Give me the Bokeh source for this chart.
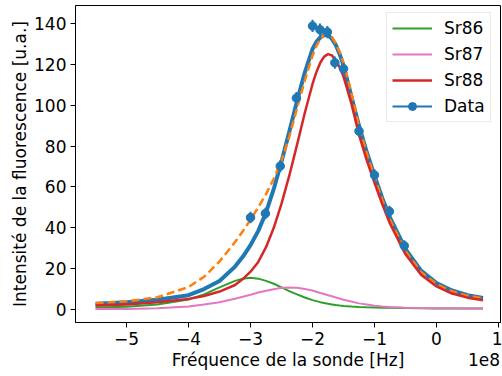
from bokeh.plotting import figure
from bokeh.models import Range1d, FixedTicker, Legend, LegendItem, LinearAxis, CustomJSTickFormatter
from bokeh.embed import file_html
from bokeh.resources import INLINE

# Frequencies in units of 1e8 Hz
freq_fit = [-5.5, -5.0, -4.5, -4.0, -3.75, -3.5, -3.25, -3.125, -3.0, -2.875, -2.75, -2.625,
            -2.5, -2.375, -2.25, -2.125, -2.0, -1.9375, -1.875, -1.8125, -1.75, -1.6875,
            -1.625, -1.5625, -1.5, -1.375, -1.25, -1.125, -1.0, -0.875, -0.75, -0.5, -0.25,
            0.0, 0.25, 0.5, 0.75]
fit_total = [2.8, 3.6, 4.8, 7.0, 10.0, 14.0, 21.0, 25.8, 31.5, 38.5, 47.5, 59.0,
             72.5, 87.0, 102.0, 116.0, 127.5, 131.0, 133.2, 134.4, 134.3, 132.5,
             129.5, 125.0, 119.5, 104.5, 90.0, 77.0, 65.5, 54.5, 45.0, 29.5, 19.0,
             13.0, 9.3, 7.0, 5.7]
fit_sum = [3.0, 4.0, 6.0, 11.0, 16.0, 23.5, 33.0, 38.3, 44.0, 50.0, 56.5, 64.0,
           73.0, 84.5, 98.5, 112.0, 124.3, 129.0, 132.5, 134.5, 134.8, 133.3,
           130.3, 125.8, 120.6, 106.3, 89.7, 76.5, 64.8, 53.8, 44.0, 28.6, 18.4,
           12.5, 8.9, 6.8, 5.5]
sr86 = [1.0, 1.4, 2.4, 4.9, 7.4, 10.8, 14.0, 15.1, 15.5, 15.1, 14.0, 12.6,
        10.8, 9.0, 7.4, 5.9, 4.6, 4.1, 3.6, 3.2, 2.8, 2.5,
        2.2, 1.95, 1.75, 1.45, 1.2, 1.05, 0.95, 0.85, 0.8, 0.7, 0.6,
        0.55, 0.5, 0.45, 0.45]
sr87 = [0.25, 0.3, 0.6, 1.5, 2.4, 3.6, 5.3, 6.2, 7.2, 8.3, 9.2, 9.95,
        10.6, 10.8, 10.6, 10.0, 9.3, 8.7, 8.1, 7.55, 7.0, 6.45,
        5.9, 5.35, 4.8, 3.9, 3.0, 2.4, 1.8, 1.45, 1.2, 0.9, 0.75,
        0.65, 0.6, 0.55, 0.5]
sr88 = [2.0, 2.4, 3.5, 5.2, 6.6, 8.8, 12.0, 14.9, 18.5, 23.3, 30.5, 40.0,
        51.8, 65.5, 80.6, 96.2, 110.4, 116.2, 120.8, 123.8, 125.0, 124.4,
        122.0, 118.5, 114.0, 101.0, 85.5, 73.0, 62.0, 51.5, 42.0, 27.0, 17.0,
        11.3, 7.8, 5.8, 4.5]

data_freq = [-3.0, -2.76, -2.52, -2.26, -2.0, -1.88, -1.76, -1.64, -1.5, -1.25, -1.0, -0.76, -0.52]
data_int = [45.0, 47.0, 70.2, 103.5, 138.8, 137.0, 135.8, 120.8, 117.8, 87.3, 65.8, 48.0, 31.2]
data_int_err = [2.8, 2.8, 2.9, 3.0, 3.0, 3.0, 3.0, 3.0, 3.0, 2.9, 2.9, 2.8, 2.7]
data_freq_err = [0.06] * 13

x_ticks = [-5, -4, -3, -2, -1, 0, 1]
y_ticks = [0, 20, 40, 60, 80, 100, 120, 140]
x_label = "Fréquence de la sonde [Hz]"
x_offset_text = "1e8"
y_label = "Intensité de la fluorescence [u.a.]"

FONT = "DejaVu Sans"
BLUE = "#1f77b4"

p = figure(width=502, height=376, output_backend="svg", toolbar_location=None,
           x_range=Range1d(-5.823, 1.032), y_range=Range1d(-6.36, 148.81),
           min_border_left=75, min_border_right=2, min_border_top=5, min_border_bottom=54)
p.grid.visible = False
p.outline_line_color = "black"
p.outline_line_width = 1
p.background_fill_color = "white"
p.border_fill_color = "white"

r_tot = p.line(freq_fit, fit_total, line_color=BLUE, line_width=4)
r_sum = p.line(freq_fit, fit_sum, line_color="#ff7f0e", line_width=2.5, line_dash="8 4")
r86 = p.line(freq_fit, sr86, line_color="#2ca02c", line_width=2)
r87 = p.line(freq_fit, sr87, line_color="#e377c2", line_width=2)
r88 = p.line(freq_fit, sr88, line_color="#d62728", line_width=2.5)

y_lo = [y - e for y, e in zip(data_int, data_int_err)]
y_hi = [y + e for y, e in zip(data_int, data_int_err)]
x_lo = [x - e for x, e in zip(data_freq, data_freq_err)]
x_hi = [x + e for x, e in zip(data_freq, data_freq_err)]
r_ey = p.segment(data_freq, y_lo, data_freq, y_hi, line_color=BLUE, line_width=2)
r_ex = p.segment(x_lo, data_int, x_hi, data_int, line_color=BLUE, line_width=2)
r_pt = p.scatter(data_freq, data_int, size=8.5, fill_color=BLUE, line_color=BLUE)

legend = Legend(items=[
    LegendItem(label="Sr86", renderers=[r86]),
    LegendItem(label="Sr87", renderers=[r87]),
    LegendItem(label="Sr88", renderers=[r88]),
    LegendItem(label="Data", renderers=[r_ex, r_pt]),
], location=(311, 200))
legend.label_text_font = FONT
legend.label_text_font_size = "17px"
legend.label_text_color = "black"
legend.glyph_width = 40
legend.glyph_height = 20
legend.label_height = 20
legend.spacing = 6
legend.padding = 5
legend.margin = 0
legend.label_standoff = 12
legend.border_line_color = "#d5d5d5"
legend.border_line_width = 1
legend.background_fill_alpha = 0.8
p.add_layout(legend)

for ax in (p.xaxis[0], p.yaxis[0]):
    ax.axis_line_color = "black"
    ax.axis_line_width = 1
    ax.major_tick_line_color = "black"
    ax.major_tick_out = 5
    ax.major_tick_in = 0
    ax.minor_tick_out = 0
    ax.minor_tick_in = 0
    ax.major_label_text_font = FONT
    ax.major_label_text_font_size = "17px"
    ax.major_label_text_color = "black"
    ax.axis_label_text_font = FONT
    ax.axis_label_text_font_size = "17px"
    ax.axis_label_text_font_style = "normal"
    ax.axis_label_text_color = "black"

minus_fmt = "return String(tick).replace('-', '\\u2212');"
p.xaxis.ticker = FixedTicker(ticks=x_ticks)
p.xaxis.formatter = CustomJSTickFormatter(code=minus_fmt)
p.xaxis.major_label_standoff = 4
p.yaxis.ticker = FixedTicker(ticks=y_ticks)
p.yaxis.formatter = CustomJSTickFormatter(code=minus_fmt)
p.yaxis.axis_label = y_label
p.yaxis.major_label_standoff = 4
p.yaxis.axis_label_standoff = 1

# Second row under the x axis: axis title (centred) and the offset text "1e8" (right)
title_axis = LinearAxis(
    ticker=FixedTicker(ticks=[-2.395, 0.766]),
    formatter=CustomJSTickFormatter(args=dict(lab=x_label, off=x_offset_text),
                                    code="return tick < 0 ? lab : off;"),
    axis_line_color=None, major_tick_line_color=None, minor_tick_line_color=None,
    major_tick_out=0, major_tick_in=0, minor_tick_out=0, minor_tick_in=0,
    major_label_standoff=2,
    major_label_text_font=FONT, major_label_text_font_size="17px",
    major_label_text_color="black")
p.add_layout(title_axis, "below")

open("out.html", "w", encoding="utf-8").write(file_html(p, INLINE))
